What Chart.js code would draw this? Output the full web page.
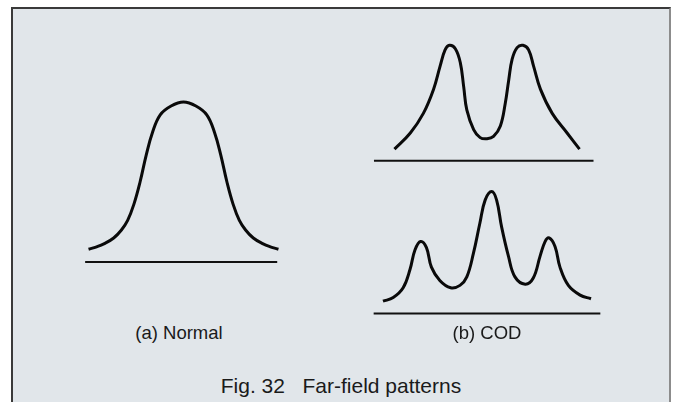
<!DOCTYPE html>
<html>
<head>
<meta charset="utf-8">
<script src="https://cdn.jsdelivr.net/npm/chart.js@4"></script>
<style>
  html, body { margin: 0; padding: 0; background: #ffffff; }
  body { width: 674px; height: 402px; position: relative; overflow: hidden; font-family: "Liberation Sans", Arial, sans-serif; }
  #frame { position: absolute; left: 11px; top: 7px; width: 656px; height: 400px;
           background: #e1e6ea; border-left: 2px solid #3a3a3a; border-top: 2px solid #3a3a3a; border-right: 2px solid #8c8c8c; }
  canvas { position: absolute; }
  .cap { position: absolute; color: #1a1a1a; white-space: pre; line-height: 1; transform: translateX(-50%); }
</style>
</head>
<body>
<div id="frame"></div>
<canvas id="cNormal" width="211" height="192" style="left:78px; top:86px;"></canvas>
<canvas id="cTwo" width="236" height="150" style="left:369px; top:28px;"></canvas>
<canvas id="cThree" width="236" height="151" style="left:369px; top:177px;"></canvas>
<div class="cap" id="capA" style="left:179px; top:324px; font-size:18.5px;"></div>
<div class="cap" id="capB" style="left:487px; top:324px; font-size:18.5px;"></div>
<div class="cap" id="capFig" style="left:341px; top:375px; font-size:21px;"></div>
<script>
// ---- data (angle in degrees, relative intensity) ----
const normalAngle     = [-30.6, -28, -25.5, -22.5, -20, -18, -16, -14, -12, -10, -7.5, -4, 0, 4, 7.5, 10, 12, 14, 16, 18, 20, 22.5, 25.5, 28, 30.6];
const normalIntensity = [0.08, 0.095, 0.115, 0.15, 0.20, 0.26, 0.36, 0.50, 0.67, 0.81, 0.92, 0.975, 1.0, 0.975, 0.92, 0.81, 0.67, 0.50, 0.36, 0.26, 0.20, 0.15, 0.115, 0.095, 0.08];

const codTwoAngle     = [-29.8, -24.7, -20.5, -17.2, -15.1, -13.5, -12.1, -10.2, -8.6, -7.5, -6.5, -4.3, -2.2, 0, 2.1, 4.3, 5.9, 7.0, 8.1, 9.7, 11.6, 13.4, 15.0, 17.2, 21.0, 25.8, 29.8];
const codTwoIntensity = [0.10, 0.24, 0.41, 0.62, 0.82, 0.96, 1.0, 0.97, 0.85, 0.64, 0.44, 0.27, 0.20, 0.19, 0.21, 0.30, 0.50, 0.70, 0.88, 0.98, 1.0, 0.96, 0.82, 0.62, 0.41, 0.24, 0.10];

const codThreeAngle     = [-33.5, -30.2, -27.0, -24.8, -23.2, -21.4, -19.5, -17.9, -15.2, -11.7, -8.7, -6.5, -4.4, -2.3, -0.6, 1.5, 3.1, 4.7, 6.9, 9.0, 12.3, 14.9, 17.1, 18.7, 20.0, 21.9, 23.5, 26.2, 30.0, 33.5];
const codThreeIntensity = [0.10, 0.13, 0.21, 0.36, 0.52, 0.59, 0.54, 0.38, 0.27, 0.21, 0.23, 0.30, 0.49, 0.74, 0.93, 1.0, 0.93, 0.71, 0.47, 0.30, 0.24, 0.29, 0.47, 0.59, 0.62, 0.55, 0.38, 0.23, 0.15, 0.12];

const baselineNormal   = [-31.7, 30.2];
const baselineCodTwo   = [-36.4, 34.3];
const baselineCodThree = [-36.5, 36.5];

const captionLabels = ["(a) Normal", "(b) COD"];
const figureTitle = "Fig. 32   Far-field patterns";

// ---- drawing ----
function pts(xs, ys) { return xs.map((x, i) => ({ x: x, y: ys[i] })); }

function makeChart(id, angles, intens, base, xr, yr) {
  new Chart(document.getElementById(id), {
    type: 'line',
    data: {
      datasets: [
        { label: 'pattern', data: pts(angles, intens), borderColor: '#0a0a0a', borderWidth: 3,
          pointRadius: 0, tension: 0.4, fill: false, clip: false,
          borderCapStyle: 'butt', borderJoinStyle: 'round' },
        { label: 'baseline', data: pts(base, [0, 0]), borderColor: '#111111', borderWidth: 2,
          pointRadius: 0, tension: 0, fill: false, clip: false }
      ]
    },
    options: {
      responsive: false, animation: false, devicePixelRatio: 1,
      layout: { padding: 0 },
      plugins: { legend: { display: false }, tooltip: { enabled: false }, title: { display: false } },
      scales: {
        x: { type: 'linear', min: xr[0], max: xr[1], display: false },
        y: { type: 'linear', min: yr[0], max: yr[1], display: false }
      }
    }
  });
}

makeChart('cNormal', normalAngle, normalIntensity, baselineNormal, [-34, 34], [-0.1, 1.1]);
makeChart('cTwo', codTwoAngle, codTwoIntensity, baselineCodTwo, [-38, 38], [-0.15, 1.15]);
makeChart('cThree', codThreeAngle, codThreeIntensity, baselineCodThree, [-38, 38], [-0.12, 1.12]);

document.getElementById('capA').textContent = captionLabels[0];
document.getElementById('capB').textContent = captionLabels[1];
document.getElementById('capFig').textContent = figureTitle;
</script>
</body>
</html>
